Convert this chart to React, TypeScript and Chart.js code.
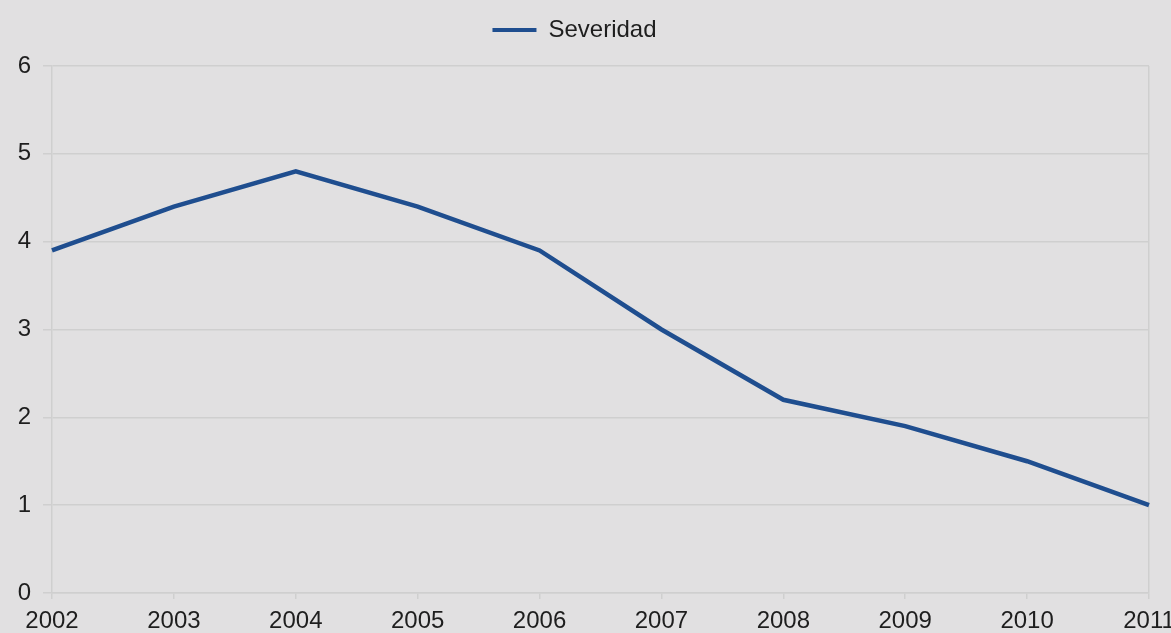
import React, { useEffect, useRef } from "react";
import { Chart, registerables } from "chart.js";

Chart.register(...registerables);

const years = ["2002", "2003", "2004", "2005", "2006", "2007", "2008", "2009", "2010", "2011"];
const severidad = [3.9, 4.4, 4.8, 4.4, 3.9, 3.0, 2.2, 1.9, 1.5, 1.0];
const seriesLabel = "Severidad";

const BG = "#e1e0e1";
const GRID = "#cfcfcf";
const LINE = "#1f4e8f";
const TEXT = "#1e1e1e";
const FONT = "'Liberation Sans', Arial, sans-serif";

export default function App() {
  const ref = useRef<HTMLCanvasElement | null>(null);
  useEffect(() => {
    if (!ref.current) return;
    const chart = new Chart(ref.current, {
      type: "line",
      data: {
        labels: years,
        datasets: [
          {
            label: seriesLabel,
            data: severidad,
            borderColor: LINE,
            backgroundColor: LINE,
            borderWidth: 4.5,
            pointRadius: 0,
            tension: 0,
          },
        ],
      },
      options: {
        animation: false,
        responsive: false,
        events: [],
        layout: { padding: { left: 0, right: 22, top: -6, bottom: 0 } },
        plugins: {
          tooltip: { enabled: false },
          title: {
            display: true,
            text: " ",
            weight: 500,
            position: "top",
            font: { size: 1, lineHeight: 1 },
            padding: { top: 0, bottom: 13 },
          },
          legend: {
            display: true,
            position: "top",
            labels: {
              color: TEXT,
              font: { family: FONT, size: 24 },
              boxWidth: 44,
              boxHeight: 4,
              padding: 24,
              generateLabels: (c: any) =>
                c.data.datasets.map((d: any, i: number) => ({
                  text: d.label,
                  fillStyle: LINE,
                  strokeStyle: LINE,
                  lineWidth: 0,
                  fontColor: TEXT,
                  datasetIndex: i,
                })),
            },
          },
        },
        scales: {
          x: {
            type: "category",
            offset: false,
            grid: {
              display: true,
              drawOnChartArea: true,
              color: (ctx: any) => (ctx.index === years.length - 1 ? GRID : "rgba(0,0,0,0)"),
              tickColor: GRID,
              tickLength: 6,
              lineWidth: 1.5,
            },
            border: { display: true, color: GRID, width: 1.5 },
            ticks: {
              color: TEXT,
              font: { family: FONT, size: 24 },
              padding: 8,
              maxRotation: 0,
              autoSkip: false,
            },
            afterFit: (scale: any) => {
              scale.paddingLeft = 0;
              scale.paddingRight = 0;
              scale.height = 40;
            },
          },
          y: {
            min: 0,
            max: 6,
            ticks: {
              stepSize: 1,
              color: TEXT,
              font: { family: FONT, size: 24 },
              padding: 12,
            },
            grid: { color: GRID, lineWidth: 1.5, tickLength: 9 },
            border: { display: true, color: GRID, width: 1.5 },
            afterFit: (scale: any) => {
              scale.width = 52;
            },
          },
        },
      },
    });
    return () => chart.destroy();
  }, []);
  return (
    <div style={{ position: "fixed", inset: 0, background: BG, overflow: "hidden" }}>
      <canvas ref={ref} width={1171} height={633} style={{ position: "absolute", left: 0, top: 0 }} />
    </div>
  );
}
